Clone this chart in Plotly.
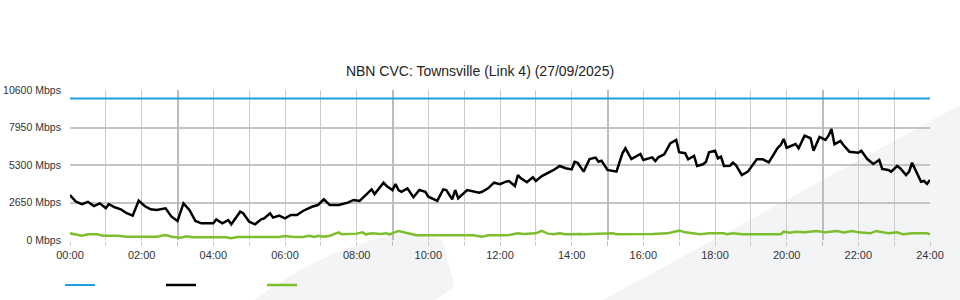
import plotly.graph_objects as go

# ---- data (minutes since midnight, Mbps) ----
capacity_min = [0, 1440]
capacity_val = [10000, 10000]

traffic_min = [0,10,20,30,40,50,60,65,75,85,95,105,115,125,135,145,160,170,180,190,200,210,220,240,245,255,265,270,285,290,300,310,320,325,335,340,350,360,370,380,390,400,405,415,425,435,450,465,475,485,495,505,510,525,530,540,545,550,555,565,575,585,595,600,615,625,630,640,645,650,665,675,685,690,700,710,720,730,735,745,750,755,765,775,780,790,800,810,820,830,840,845,850,860,870,880,885,890,900,915,925,930,940,955,960,975,980,985,995,1005,1015,1020,1030,1035,1045,1050,1060,1065,1070,1080,1085,1090,1095,1105,1110,1115,1125,1135,1150,1160,1170,1180,1185,1190,1195,1200,1210,1215,1220,1230,1240,1245,1255,1265,1270,1275,1280,1290,1295,1305,1320,1325,1335,1345,1355,1360,1370,1375,1385,1390,1400,1405,1410,1420,1425,1430,1435,1440]
traffic_val = [3180,2700,2540,2700,2400,2590,2240,2540,2310,2170,1890,1720,2780,2400,2170,2120,2240,1650,1340,2590,2120,1340,1180,1180,1460,1180,1410,1110,2000,1890,1290,1110,1460,1530,1890,1580,1720,1530,1770,1770,2050,2280,2350,2470,2880,2470,2470,2640,2830,2760,3180,3580,3250,4050,3820,3530,3960,3530,3410,3650,3020,3530,3410,3060,2760,3580,3530,2880,3530,2950,3530,3460,3340,3410,3650,4050,3940,4120,4170,3820,4590,4360,4080,4430,4170,4520,4710,4950,5230,5070,4990,5530,5460,4830,5720,5820,5530,5600,4950,4830,6130,6480,5720,6080,5650,5840,5580,5840,6060,6830,7070,6200,6130,5700,5940,5230,5350,5530,6200,6310,5770,5890,5230,5250,5460,5300,4590,4830,5700,5700,5490,6240,6520,6710,7140,6520,6710,6780,6480,7370,7190,6310,7280,7070,7370,7840,6760,7000,6710,6240,6170,6310,5720,5370,5650,5020,4950,4830,5230,5070,4590,4830,5460,4640,4120,4170,3960,4240]

other_min = [0,10,20,30,45,55,80,95,120,145,160,170,185,195,205,240,260,270,280,350,360,375,390,400,410,415,425,435,450,455,480,490,495,505,520,530,535,550,555,570,580,620,675,690,700,730,735,750,760,780,790,800,810,820,830,855,860,910,915,975,1000,1020,1030,1055,1070,1095,1100,1110,1125,1190,1195,1205,1215,1230,1250,1265,1285,1295,1310,1320,1340,1350,1370,1385,1395,1410,1435,1440]
other_val = [470,400,300,400,400,300,300,235,235,235,350,235,165,260,190,190,190,120,210,210,280,210,210,300,210,300,235,300,540,400,450,540,400,470,420,470,400,640,590,420,330,330,330,235,330,330,350,470,420,470,640,450,400,470,400,420,400,470,400,420,470,660,540,400,470,470,400,470,400,400,590,520,590,540,640,540,640,540,640,540,470,640,470,540,400,470,470,400]

x_tick_vals = [0,120,240,360,480,600,720,840,960,1080,1200,1320,1440]
x_tick_text = ["00:00","02:00","04:00","06:00","08:00","10:00","12:00","14:00","16:00","18:00","20:00","22:00","24:00"]
x_major_grid = [180, 540, 900, 1260]
y_tick_vals = [0, 2650, 5300, 7950, 10600]
y_tick_text = [f"{v} Mbps" for v in y_tick_vals]

title = "NBN CVC: Townsville (Link 4) (27/09/2025)"

FONT = "Liberation Sans, Arial, sans-serif"
BLUE = "#1A9FE0"
BLACK = "#000000"
GREEN = "#7CBF2C"
WM = "#F3F4F6"

fig = go.Figure()
fig.add_trace(go.Scatter(x=capacity_min, y=capacity_val, mode="lines", name="",
                         line=dict(color=BLUE, width=2.2), xaxis="x2", yaxis="y",
                         hoverinfo="skip"))
fig.add_trace(go.Scatter(x=traffic_min, y=traffic_val, mode="lines", name="",
                         line=dict(color=BLACK, width=2.5), hoverinfo="skip"))
fig.add_trace(go.Scatter(x=other_min, y=other_val, mode="lines", name="",
                         line=dict(color=GREEN, width=2.5), hoverinfo="skip"))

# background watermark (decorative)
shapes = [
    dict(type="path", xref="paper", yref="paper", layer="below", line=dict(width=0),
         fillcolor=WM,
         path="M 0.214,-0.4 Q 0.29,-0.08 0.37,0.03 Q 0.40,0.06 0.433,0.0 L 0.447,-0.31 L 0.425,-0.4 Z"),
    dict(type="path", xref="paper", yref="paper", layer="below", line=dict(width=0),
         fillcolor=WM,
         path="M 0.62,-0.4 L 1.035,0.9 L 1.035,-0.4 Z"),
]

fig.update_layout(
    width=960, height=300,
    margin=dict(l=70, r=30, t=90, b=60, autoexpand=False),
    paper_bgcolor="white", plot_bgcolor="rgba(0,0,0,0)",
    font=dict(family=FONT, size=11, color="#333333"),
    title=dict(text=title, x=0.5, xref="container", xanchor="center",
               y=1 - 71 / 300, yref="container", yanchor="middle",
               font=dict(family=FONT, size=14, color="#222222")),
    showlegend=True,
    legend=dict(orientation="h", xref="container", x=60 / 960, xanchor="left",
                yref="container", y=1 - 285 / 300, yanchor="middle",
                entrywidth=56, entrywidthmode="pixels", bgcolor="rgba(0,0,0,0)",
                font=dict(size=11)),
    shapes=shapes,
    xaxis=dict(range=[0, 1440], tickvals=x_tick_vals, ticktext=x_tick_text,
               showgrid=True, gridcolor="#CCCCCC", gridwidth=1,
               ticks="outside", ticklen=5, tickcolor="#CCCCCC",
               minor=dict(dtick=60, tick0=0, showgrid=True, gridcolor="#CCCCCC",
                          gridwidth=1, ticks="outside", ticklen=5, tickcolor="#CCCCCC"),
               zeroline=False, showline=False, fixedrange=True),
    xaxis2=dict(range=[0, 1440], overlaying="x", tickvals=x_major_grid,
                showticklabels=False, showgrid=True, gridcolor="#BDBDBD", gridwidth=2,
                ticks="outside", ticklen=5, tickcolor="#BDBDBD",
                zeroline=False, showline=False, side="bottom", fixedrange=True),
    yaxis=dict(range=[0, 10600], tickvals=y_tick_vals, ticktext=y_tick_text,
               tickfont=dict(size=10.5),
               showgrid=True, gridcolor="#C4C4C4", gridwidth=2,
               ticks="outside", ticklen=6, tickcolor="rgba(0,0,0,0)",
               zeroline=False, showline=False, fixedrange=True),
)

fig.write_html("out.html")
